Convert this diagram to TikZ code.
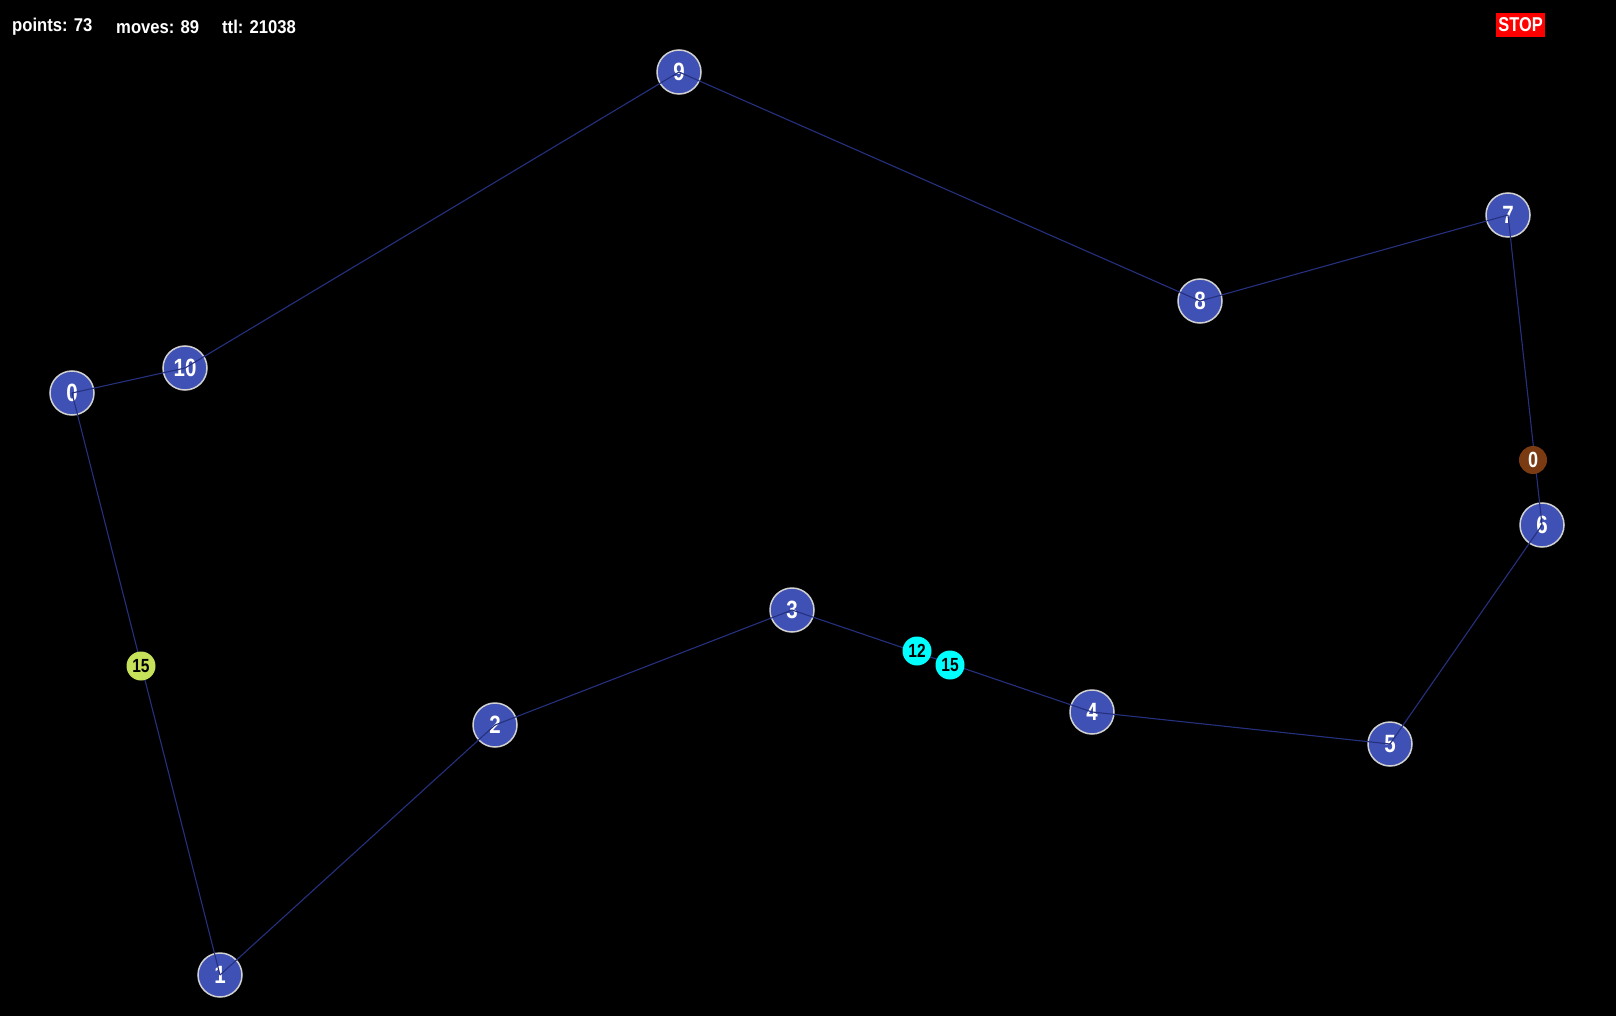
\documentclass[tikz,border=0pt]{standalone}
\usepackage{fontspec}
\setmainfont{Liberation Sans}
\newfontfamily\condfont[FakeStretch=0.82]{Liberation Sans}
\newfontfamily\hdrfont[FakeStretch=0.9]{Liberation Sans}
\begin{document}
\begin{tikzpicture}[x=1pt,y=-1pt,
  big/.style={circle,draw=black!18!white,line width=1.5pt,fill=nodeblue,minimum size=44pt,inner sep=0pt,text=white,font=\condfont\fontsize{25}{25}\selectfont\bfseries},
  small/.style={circle,minimum size=29pt,inner sep=0pt,text=black,font=\condfont\fontsize{19}{19}\selectfont\bfseries},
  edge/.style={draw=edgeblue,line width=1.1pt},
  info/.style={anchor=west,text=white,inner sep=0pt,font=\hdrfont\fontsize{18.5}{18.5}\selectfont\bfseries}]
\definecolor{nodeblue}{HTML}{3F51B5}
\definecolor{edgeblue}{HTML}{25307F}
\definecolor{brownc}{HTML}{7A3A12}
\definecolor{limec}{HTML}{C6E15A}
\definecolor{cyanc}{HTML}{00FFFF}
\fill[black] (0,0) rectangle (1616,1016);
\useasboundingbox (0,0) rectangle (1616,1016);
% big nodes
\node[big] (n9) at (679,72) {9};
\node[big] (n7) at (1508,215) {7};
\node[big] (n8) at (1200,301) {8};
\node[big] (n10) at (185,368) {10};
\node[big] (n0) at (72,393) {0};
\node[big] (n6) at (1542,525) {6};
\node[big] (n3) at (792,610) {3};
\node[big] (n4) at (1092,712) {4};
\node[big] (n5) at (1390,744) {5};
\node[big] (n2) at (495,725) {2};
\node[big] (n1) at (220,975) {1};
% edges
\draw[edge] (n0.center) -- (n10.center);
\draw[edge] (n10.center) -- (n9.center);
\draw[edge] (n9.center) -- (n8.center);
\draw[edge] (n8.center) -- (n7.center);
\draw[edge] (n7.center) -- (n6.center);
\draw[edge] (n6.center) -- (n5.center);
\draw[edge] (n5.center) -- (n4.center);
\draw[edge] (n4.center) -- (n3.center);
\draw[edge] (n3.center) -- (n2.center);
\draw[edge] (n2.center) -- (n1.center);
\draw[edge] (n1.center) -- (n0.center);
% small nodes
\node[small,fill=brownc,text=white,minimum size=28pt,font=\condfont\fontsize{22}{22}\selectfont\bfseries] (b0) at (1533,460) {0};
\node[small,fill=cyanc] (c12) at (917,651) {12};
\node[small,fill=cyanc] (c15) at (950,665) {15};
\node[small,fill=limec] (y15) at (141,666) {15};
% header
\node[info] (pts) at (12,27) {points: 73};
\node[info] (mov) at (116,27) {moves: 89};
\node[info] (ttl) at (222,27) {ttl: 21038};
\node[fill=red,text=white,inner sep=0pt,minimum width=49pt,minimum height=24pt,font=\condfont\fontsize{20}{20}\selectfont\bfseries] (stop) at (1520.5,25) {STOP};
\end{tikzpicture}
\end{document}
